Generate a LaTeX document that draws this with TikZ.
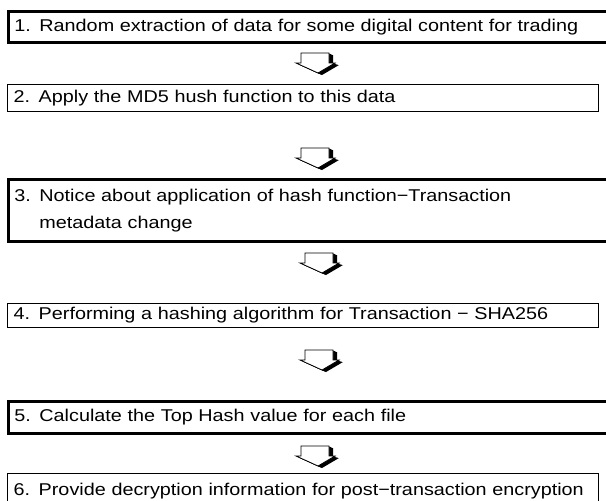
\documentclass[tikz,border=0pt]{standalone}
\usepackage{fontspec}
\setmainfont{Liberation Sans}[FakeStretch=1.16]
\begin{document}
\begin{tikzpicture}[x=0.75pt,y=-0.75pt]
\useasboundingbox (0,0) rectangle (606,500);
\tikzset{
  stepbox/.style={rectangle, anchor=north west, align=left,
    inner xsep=4.5pt, inner ysep=0pt,
    font=\fontsize{12.8}{20}\selectfont},
  thickbox/.style={stepbox, draw, line width=1.9pt,
    text width=605*0.75pt-9pt},
  thinbox/.style={stepbox, draw, line width=0.8pt,
    text width=591*0.75pt-9pt},
  % block arrow with a dark extruded side, origin at its top left corner
  blockarrow/.pic={
    \foreach \d in {1,2,3,4}
      \fill[black] (5+\d,0+\d/2) -- (5+\d,10+\d/2) -- (0+\d,10+\d/2)
        -- (22+\d,20+\d/2) -- (39+\d,10+\d/2) -- (33+\d,10+\d/2)
        -- (33+\d,0+\d/2) -- cycle;
    \filldraw[fill=white, draw=black, line width=0.6pt]
      (5,0) -- (5,10) -- (0,10) -- (22,20) -- (39,10) -- (33,10)
      -- (33,0) -- cycle;
  }
}

\node[thickbox, minimum height=31*0.75pt] (b1) at (7,10)
  {1.\hspace{6.5pt}Random extraction of data for some digital content for trading};
\node[thinbox, minimum height=27*0.75pt] (b2) at (7,84)
  {2.\hspace{6.5pt}Apply the MD5 hush function to this data};
\node[thickbox, minimum height=62*0.75pt] (b3) at (7,178)
  {3.\hspace{6.5pt}Notice about application of hash function−Transaction\\
   \phantom{3.}\hspace{6.5pt}metadata change};
\node[thinbox, minimum height=24*0.75pt] (b4) at (7,303)
  {4.\hspace{6.5pt}Performing a hashing algorithm for Transaction − SHA256};
\node[thickbox, minimum height=32*0.75pt] (b5) at (7,400)
  {5.\hspace{6.5pt}Calculate the Top Hash value for each file};
\node[thinbox, minimum height=36*0.75pt] (b6) at (7,473)
  {6.\hspace{6.5pt}Provide decryption information for post−transaction encryption};

\pic at (296,53) {blockarrow};
\pic at (296,148) {blockarrow};
\pic at (300,253) {blockarrow};
\pic at (300,350) {blockarrow};
\pic at (296,446) {blockarrow};
\end{tikzpicture}
\end{document}
